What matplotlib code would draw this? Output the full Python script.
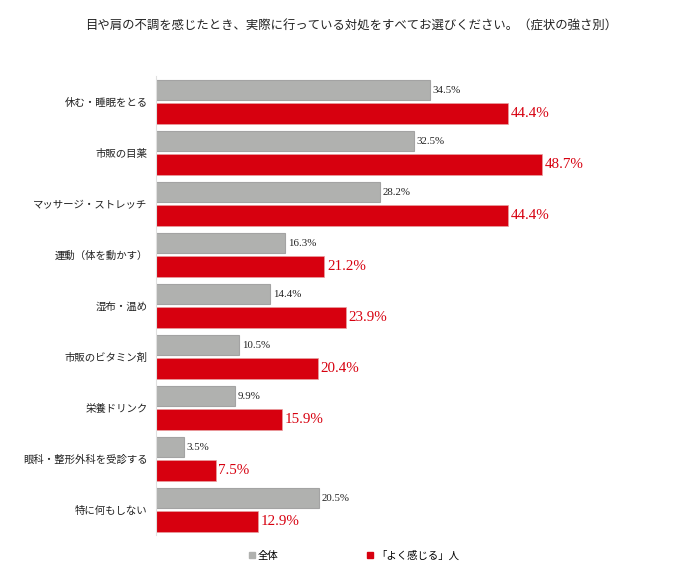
import matplotlib
matplotlib.use("Agg")
import matplotlib.pyplot as plt
from matplotlib.lines import Line2D
import numpy as np

plt.rcParams['font.family'] = ['Noto Sans CJK JP', 'DejaVu Sans']

title = "目や肩の不調を感じたとき、実際に行っている対処をすべてお選びください。（症状の強さ別）"
categories = ["休む・睡眠をとる", "市販の目薬", "マッサージ・ストレッチ", "運動（体を動かす）",
              "湿布・温め", "市販のビタミン剤", "栄養ドリンク", "眼科・整形外科を受診する", "特に何もしない"]
series_names = ["全体", "「よく感じる」人"]
all_vals = [34.5, 32.5, 28.2, 16.3, 14.4, 10.5, 9.9, 3.5, 20.5]
often_vals = [44.4, 48.7, 44.4, 21.2, 23.9, 20.4, 15.9, 7.5, 12.9]

GRAY = "#B0B1AF"
GRAY_EDGE = "#A3A3A3"
RED = "#D7000F"

fig = plt.figure(figsize=(7.0, 5.87), dpi=100)
ax = fig.add_axes([156/700, 1 - 535.25/587, (632-156)/700, (535.25-76.25)/587])

y = np.arange(len(categories))
h = 0.41
off = 0.23
b1 = ax.barh(y - off, all_vals, height=h, color=GRAY, edgecolor=GRAY_EDGE, linewidth=0.8)
b2 = ax.barh(y + off, often_vals, height=h, color=RED, edgecolor="#E8A0A0", linewidth=0.5)

ax.bar_label(b1, labels=[f"{v:.1f}%" for v in all_vals], padding=2,
             fontsize=7.8, family=['Liberation Serif'], color="#222222")
ax.bar_label(b2, labels=[f"{v:.1f}%" for v in often_vals], padding=2,
             fontsize=10.8, family=['Liberation Serif'], color=RED)

ax.set_xlim(0, 60)
ax.set_ylim(len(categories) - 0.5, -0.5)
ax.set_yticks(y)
ax.set_yticklabels(categories, fontsize=7.5, color="#222222")
ax.tick_params(axis='y', length=0, pad=6)
ax.set_xticks([])
for s in ["top", "right", "bottom"]:
    ax.spines[s].set_visible(False)
ax.spines["left"].set_color("#E0E0E0")
ax.spines["left"].set_linewidth(0.8)

fig.text(351/700, 1 - 26/587, title, ha="center", va="center", fontsize=8.9, color="#222222")

handles = [Line2D([], [], marker="s", linestyle="none", markersize=4.5, color=GRAY),
           Line2D([], [], marker="s", linestyle="none", markersize=4.5, color=RED)]
fig.legend(handles, series_names, loc="center", bbox_to_anchor=(354/700, 1 - 556/587),
           ncol=2, frameon=False, fontsize=7.5, handlelength=0.6, handletextpad=0.3,
           columnspacing=8.5)

fig.savefig("out.png", dpi=100, facecolor="white")
